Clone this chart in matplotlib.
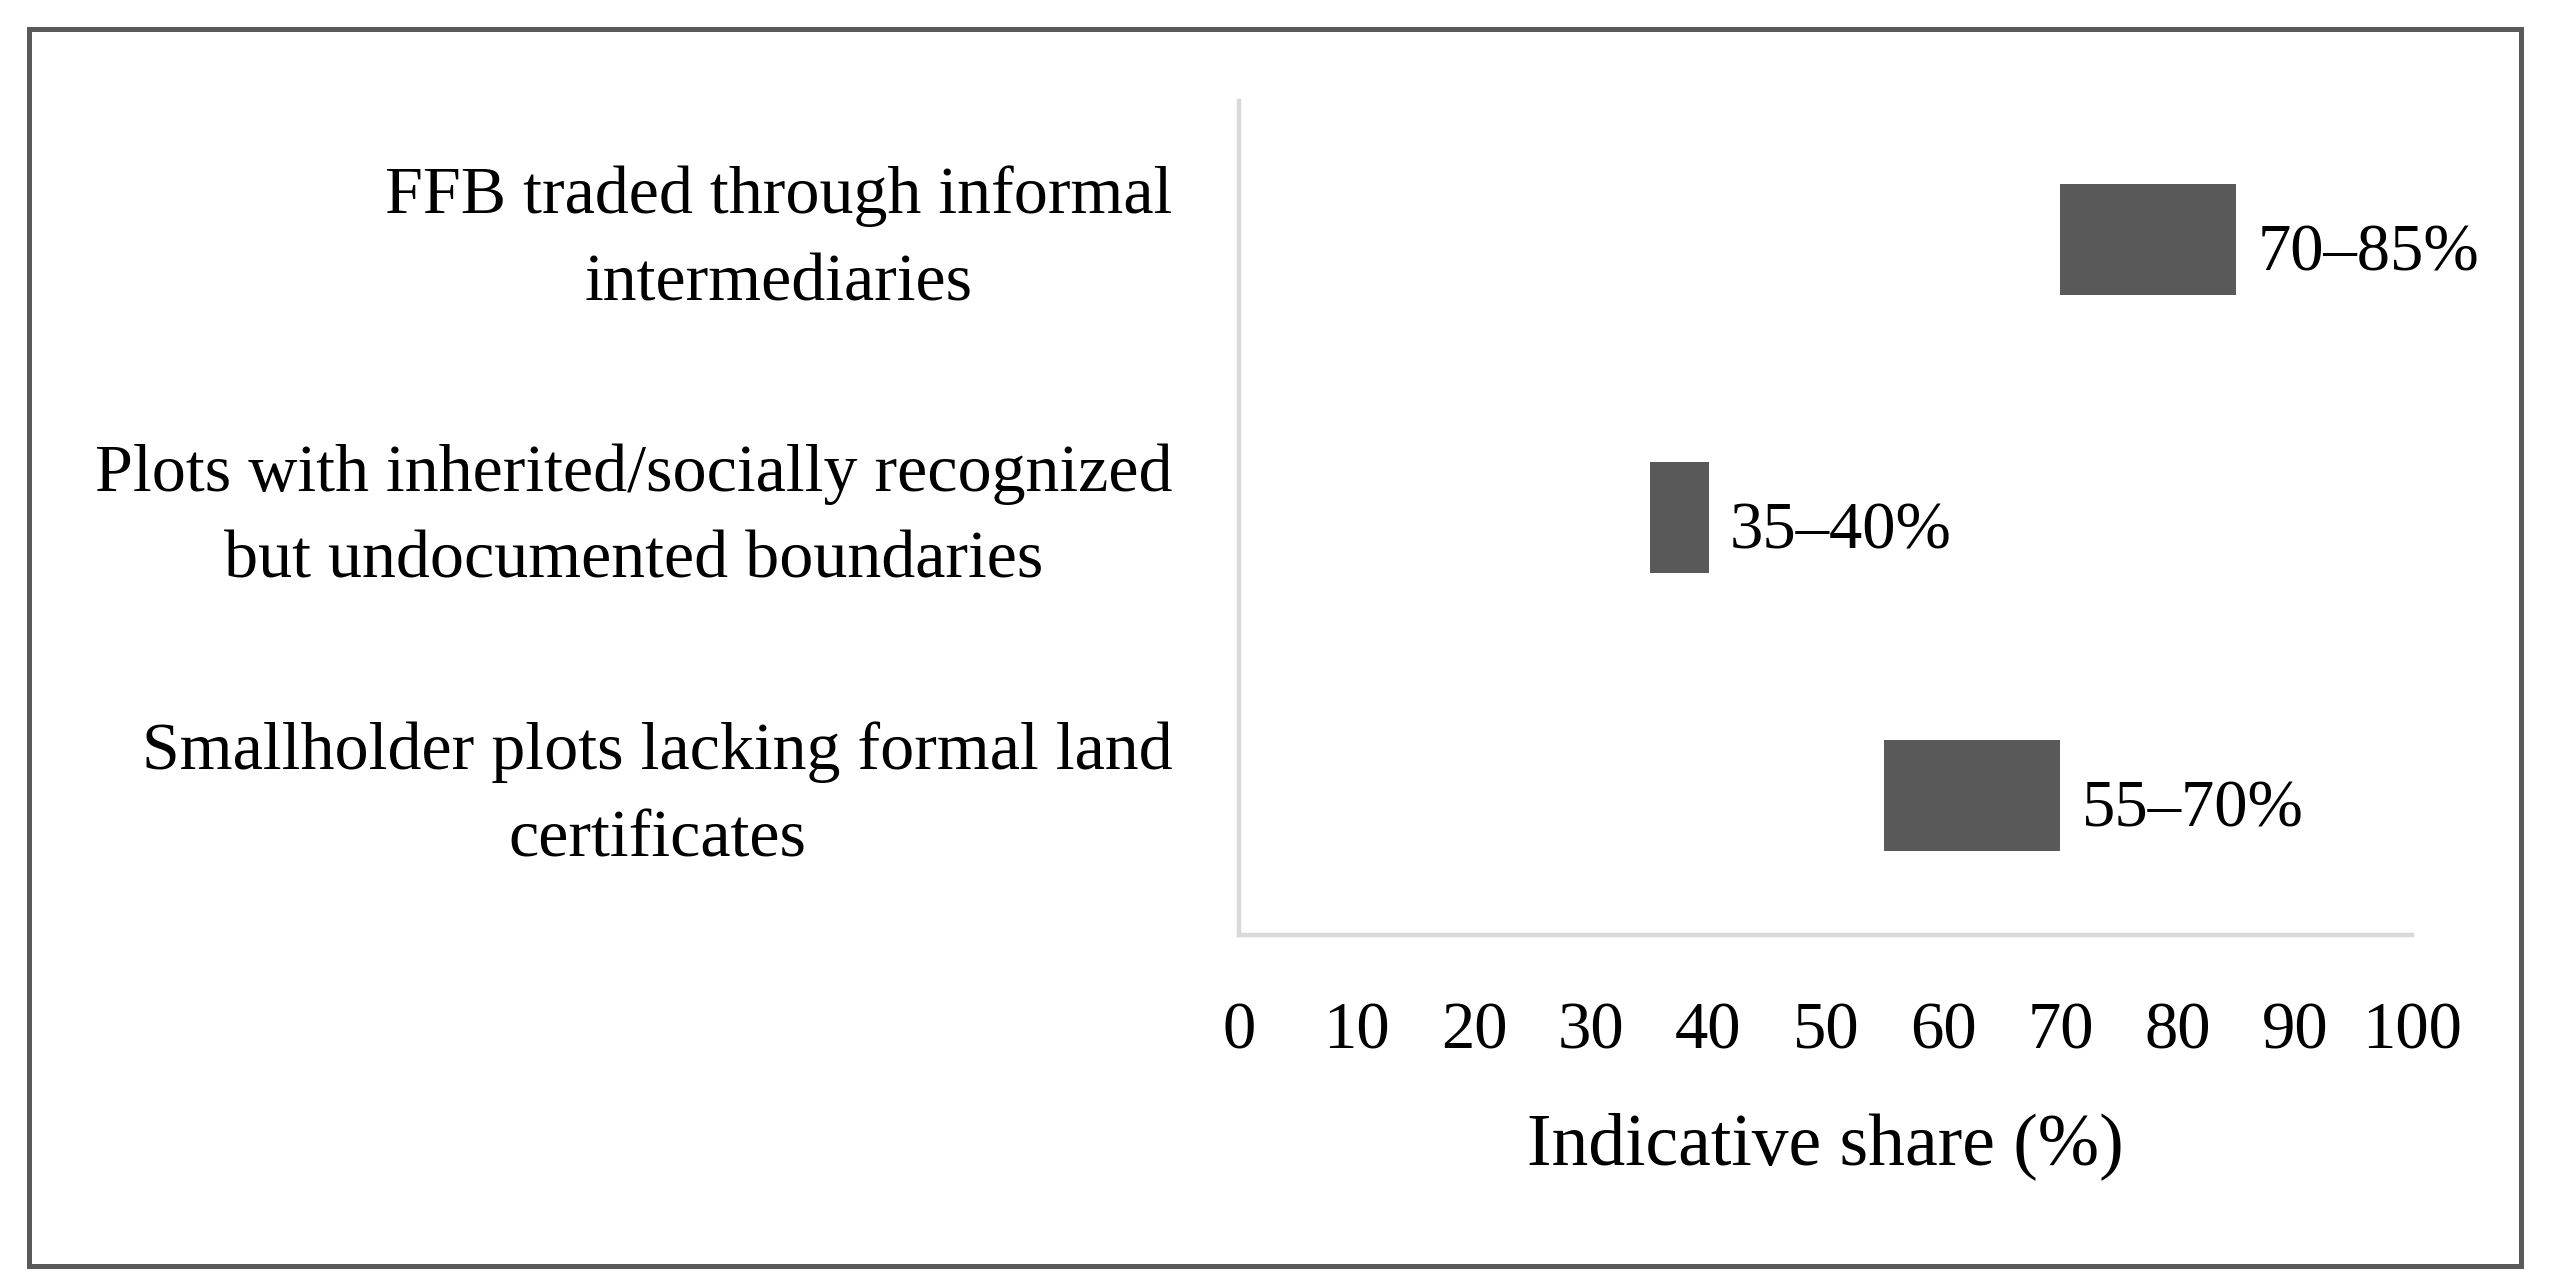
import matplotlib
matplotlib.use('Agg')
import matplotlib.pyplot as plt
from matplotlib.patches import Rectangle

plt.rcParams['font.family'] = ['Liberation Serif', 'DejaVu Serif']

categories = ['Smallholder plots lacking formal land\ncertificates',
              'Plots with inherited/socially recognized\nbut undocumented boundaries',
              'FFB traded through informal\nintermediaries']
low = [55, 35, 70]
high = [70, 40, 85]
range_labels = ['55\u201370%', '35\u201340%', '70\u201385%']
xticks = [0, 10, 20, 30, 40, 50, 60, 70, 80, 90, 100]

fig = plt.figure(figsize=(12.75, 6.385), dpi=200)
ax = fig.add_axes([0.486, 0.268, 0.460, 0.653])

widths = [h - l for l, h in zip(low, high)]
bars = ax.barh(range(len(categories)), widths, left=low, height=0.4, color='#595959')
for b, lab in zip(bars, range_labels):
    ax.text(b.get_x() + b.get_width() + 1.8, b.get_y() + b.get_height() / 2 - 0.05, lab,
            va='center', ha='left', fontsize=24)

ax.set_xlim(0, 100)
ax.set_ylim(-0.5, 2.5)
ax.set_xticks(xticks)
ax.set_yticks(range(len(categories)))
ax.set_yticklabels(categories, multialignment='center', linespacing=1.55, fontsize=24.5,
                   va='center')
ax.tick_params(axis='both', length=0, labelsize=24)
ax.tick_params(axis='x', pad=24)
ax.tick_params(axis='y', pad=24)
for lbl in ax.get_yticklabels():
    lbl.set_fontsize(24.5)
for s in ['top', 'right']:
    ax.spines[s].set_visible(False)
for s in ['left', 'bottom']:
    ax.spines[s].set_color('#d9d9d9')
    ax.spines[s].set_linewidth(1.6)
ax.set_xlabel('Indicative share (%)', fontsize=26.5, labelpad=18)

fig.patches.append(Rectangle((0.0115, 0.009), 0.977, 0.968, transform=fig.transFigure,
                             fill=False, edgecolor='#595959', linewidth=1.8))

fig.savefig('out.png', dpi=200)
